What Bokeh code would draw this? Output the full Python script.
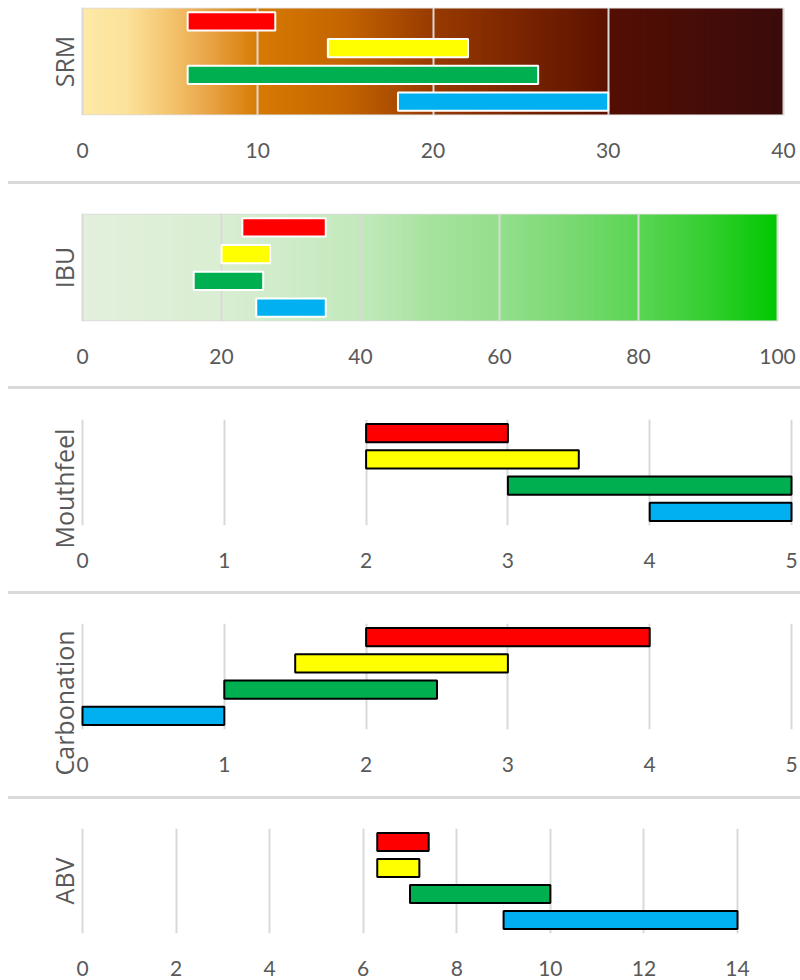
import numpy as np
from bokeh.plotting import figure
from bokeh.layouts import column
from bokeh.models import Div, ColumnDataSource, Range1d, FixedTicker, Title
from bokeh.embed import file_html
from bokeh.resources import INLINE

# ---------------- data ----------------
styles = ["Style A", "Style B", "Style C", "Style D"]
bar_colors = ["#FF0000", "#FFFF00", "#00B050", "#00B0F0"]

srm_low = [6, 14, 6, 18]
srm_high = [11, 22, 26, 30]
ibu_low = [23, 20, 16, 25]
ibu_high = [35, 27, 26, 35]
mouthfeel_low = [2, 2, 3, 4]
mouthfeel_high = [3, 3.5, 5, 5]
carbonation_low = [2, 1.5, 1, 0]
carbonation_high = [4, 3, 2.5, 1]
abv_low = [6.3, 6.3, 7, 9]
abv_high = [7.4, 7.2, 10, 14]

srm_ticks = [0, 10, 20, 30, 40]
ibu_ticks = [0, 20, 40, 60, 80, 100]
scale_ticks = [0, 1, 2, 3, 4, 5]
abv_ticks = [0, 2, 4, 6, 8, 10, 12, 14]

srm_stops = [0, 2.5, 5, 7.5, 10, 15, 20, 25, 30, 30.01, 40]
srm_stop_colors = ["#FEE9A8", "#FCE29A", "#F3C46E", "#E7A040", "#D77A02",
                   "#C46400", "#983A00", "#7A2400", "#5C1200", "#530E03", "#3A0B0B"]
ibu_stops = [0, 20, 40, 50, 60, 70, 80, 90, 100]
ibu_stop_colors = ["#E3F0DC", "#D9EED2", "#C2E9BC", "#A6E39E", "#94DF8C",
                   "#7AD972", "#5AD553", "#35CE30", "#00C800"]

TEXT = "#595959"
GRID = "#D9D9D9"
FIG_W = 800
FRAME_L = 80      # left edge of plot frame (px)
FRAME_R = 796     # right edge of plot frame (px)
ZERO_PX = 82      # where value 0 sits


def gradient_image(stops, colors, x0, x1, n=800):
    xs = np.linspace(x0, x1, n)
    rgb = np.array([[int(c[i:i + 2], 16) for i in (1, 3, 5)] for c in colors], dtype=float)
    img = np.empty((1, n), dtype=np.uint32)
    view = img.view(dtype=np.uint8).reshape((1, n, 4))
    for k in range(3):
        view[0, :, k] = np.interp(xs, stops, rgb[:, k]).round().astype(np.uint8)
    view[0, :, 3] = 255
    return img


def make_panel(label, low, high, ticks, max_px, b_top, frame_h, b_bottom,
               bar_line, label_offset=None, boxed=False, grad=None, bar_h=0.68):
    n = len(styles)
    ppu = (max_px - ZERO_PX) / ticks[-1]
    x_start = -(ZERO_PX - FRAME_L) / ppu
    x_end = (FRAME_R - ZERO_PX) / ppu
    pad = 0.02
    p = figure(width=FIG_W, height=b_top + frame_h + b_bottom,
               x_range=Range1d(x_start, x_end), y_range=Range1d(-pad, n + pad),
               output_backend="svg", toolbar_location=None, y_axis_location=None,
               min_border_left=FRAME_L, min_border_right=FIG_W - FRAME_R,
               min_border_top=b_top, min_border_bottom=b_bottom)
    p.background_fill_color = "white"
    p.border_fill_color = "white"
    p.outline_line_color = None

    if grad is not None:
        stops, cols = grad
        img = gradient_image(stops, cols, ticks[0], ticks[-1])
        p.image_rgba(image=[img], x=ticks[0], y=0, dw=ticks[-1] - ticks[0],
                     dh=n, level="image")
    if boxed:
        p.quad(left=[ticks[0]], right=[ticks[-1]], bottom=[0], top=[n],
               fill_color=None, line_color=GRID, line_width=1, level="underlay")

    ys = [n - i - 0.5 for i in range(n)]
    src = ColumnDataSource(dict(y=ys, left=low, right=high, color=bar_colors,
                                style=styles))
    p.hbar(y="y", left="left", right="right", height=bar_h, source=src,
           fill_color="color", line_color=bar_line, line_width=2)

    p.xaxis.ticker = FixedTicker(ticks=ticks)
    p.xaxis.axis_line_color = None
    p.xaxis.major_tick_line_color = None
    p.xaxis.minor_tick_line_color = None
    p.xaxis.major_label_text_font = "Lato"
    p.xaxis.major_label_text_font_size = "21px"
    p.xaxis.major_label_text_color = TEXT
    p.xaxis.major_label_standoff = 21

    p.ygrid.grid_line_color = None
    p.xgrid.grid_line_color = GRID
    p.xgrid.grid_line_width = 2

    if label_offset is None:
        t = Title(text=label, align="center")
    else:
        t = Title(text=label, align="left", offset=label_offset)
    t.text_font = "Open Sans"
    t.text_font_size = "25px"
    t.text_font_style = "normal"
    t.text_color = TEXT
    t.standoff = 0
    p.add_layout(t, "left")
    return p


def separator():
    return Div(text="", width=FIG_W - 8, height=3,
               styles={"background-color": GRID}, margin=(0, 0, 0, 8))


p_srm = make_panel("SRM", srm_low, srm_high, srm_ticks, 783, 7, 108, 66,
                   "white", boxed=True, grad=(srm_stops, srm_stop_colors))
p_ibu = make_panel("IBU", ibu_low, ibu_high, ibu_ticks, 777, 29, 108, 65,
                   "white", boxed=True, grad=(ibu_stops, ibu_stop_colors))
p_mouth = make_panel("Mouthfeel", mouthfeel_low, mouthfeel_high, scale_ticks,
                     791, 30, 106, 66, "black", label_offset=-23, bar_h=0.7)
p_carb = make_panel("Carbonation", carbonation_low, carbonation_high, scale_ticks,
                    791, 29, 106, 67, "black", label_offset=-46, bar_h=0.7)
p_abv = make_panel("ABV", abv_low, abv_high, abv_ticks, 737, 29, 105, 47,
                   "black", bar_h=0.7)

layout = column(p_srm, separator(), p_ibu, separator(), p_mouth, separator(),
                p_carb, separator(), p_abv, spacing=0)

open("out.html", "w").write(file_html(layout, INLINE))
